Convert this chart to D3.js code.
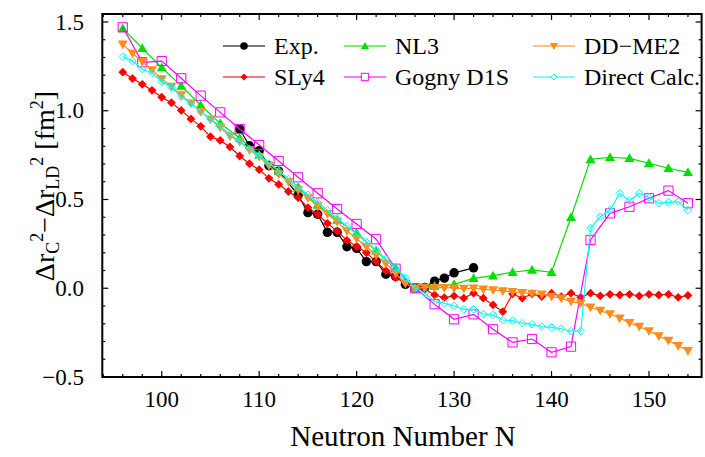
<!DOCTYPE html>
<html>
<head>
<meta charset="utf-8">
<script src="https://cdn.jsdelivr.net/npm/d3@7"></script>
<style>
  body { margin: 0; background: #fff; }
  svg { display: block; }
  svg text { font-family: "Liberation Serif", "Times New Roman", "DejaVu Serif", serif; }
</style>
</head>
<body>
<div class="wrapper"></div>
<script>
// values
var expN = [108, 109, 110, 111, 112, 114, 115, 116, 117, 118, 119, 120, 121, 122, 123, 124, 125, 126, 127, 128, 129, 130, 132];
var expVal = [0.897, 0.803, 0.775, 0.69, 0.66, 0.525, 0.426, 0.417, 0.315, 0.315, 0.234, 0.225, 0.15, 0.15, 0.079, 0.066, 0.022, 0, 0.005, 0.04, 0.057, 0.087, 0.115];

var allN = [96, 97, 98, 99, 100, 101, 102, 103, 104, 105, 106, 107, 108, 109, 110, 111, 112, 113, 114, 115,
  116, 117, 118, 119, 120, 121, 122, 123, 124, 125, 126, 127, 128, 129, 130, 131, 132, 133, 134, 135,
  136, 137, 138, 139, 140, 141, 142, 143, 144, 145, 146, 147, 148, 149, 150, 151, 152, 153, 154];
var evenN = [96, 98, 100, 102, 104, 106, 108, 110, 112, 114, 116, 118, 120, 122, 124, 126, 128, 130, 132, 134,
  136, 138, 140, 142, 144, 146, 148, 150, 152, 154];

var sly4Val = [1.217, 1.181, 1.149, 1.115, 1.076, 1.045, 1.002, 0.954, 0.912, 0.854, 0.833, 0.796, 0.745, 0.702, 0.668, 0.619, 0.585, 0.545, 0.51, 0.454,
  0.417, 0.366, 0.322, 0.27, 0.235, 0.2, 0.15, 0.099, 0.06, 0.03, 0, -0.006, -0.038, -0.053, -0.043, -0.056, -0.028, -0.056, -0.094, -0.132,
  -0.032, -0.056, -0.032, -0.047, -0.028, -0.047, -0.028, -0.051, -0.028, -0.043, -0.034, -0.038, -0.034, -0.043, -0.034, -0.038, -0.034, -0.051, -0.04];

var nl3Val = [1.464, 1.352, 1.243, 1.14, 1.031, 0.929, 0.846, 0.752, 0.66, 0.567, 0.469, 0.385, 0.313, 0.21, 0.112, 0, 0.013, 0.022, 0.056, 0.071,
  0.09, 0.103, 0.09, 0.40, 0.726, 0.738, 0.732, 0.704, 0.676, 0.653];

var gognyVal = [1.47, 1.273, 1.28, 1.183, 1.085, 0.991, 0.897, 0.807, 0.717, 0.625, 0.535, 0.446, 0.362, 0.276, 0.11, 0, -0.09, -0.175, -0.147, -0.231,
  -0.305, -0.286, -0.361, -0.329, 0.272, 0.422, 0.459, 0.507, 0.55, 0.479];

var ddme2Val = [1.374, 1.324, 1.276, 1.23, 1.179, 1.136, 1.089, 1.042, 0.995, 0.952, 0.905, 0.858, 0.826, 0.779, 0.741, 0.69, 0.644, 0.6, 0.553, 0.508,
  0.463, 0.42, 0.375, 0.322, 0.28, 0.234, 0.187, 0.14, 0.085, 0.027, 0, 0.005, 0.003, 0.003, 0.0, -0.002, 0.0, -0.005, -0.01, -0.015,
  -0.02, -0.025, -0.03, -0.034, -0.047, -0.056, -0.075, -0.085, -0.107, -0.126, -0.145, -0.169, -0.194, -0.216, -0.241, -0.269, -0.295, -0.324, -0.352];

var directVal = [1.305, 1.28, 1.235, 1.214, 1.164, 1.132, 1.079, 1.042, 0.995, 0.955, 0.912, 0.868, 0.828, 0.785, 0.748, 0.703, 0.66, 0.615, 0.572, 0.527,
  0.483, 0.44, 0.395, 0.35, 0.305, 0.26, 0.215, 0.165, 0.115, 0.06, 0, -0.028, -0.075, -0.085, -0.1, -0.119, -0.119, -0.145, -0.15, -0.179,
  -0.182, -0.197, -0.203, -0.216, -0.22, -0.228, -0.241, -0.241, 0.338, 0.403, 0.441, 0.535, 0.493, 0.535, 0.512, 0.479, 0.484, 0.488, 0.441];

var xTicks = [100, 110, 120, 130, 140, 150];
var yTicks = [-0.5, 0.0, 0.5, 1.0, 1.5];

var series = [
  {name: "Exp.", n: expN, v: expVal, color: "#000000", marker: "circle"},
  {name: "SLy4", n: allN, v: sly4Val, color: "#ff0000", marker: "diamond"},
  {name: "NL3", n: evenN, v: nl3Val, color: "#00e000", marker: "triangle"},
  {name: "Gogny D1S", n: evenN, v: gognyVal, color: "#ff00ff", marker: "square"},
  {name: "DD\u2212ME2", n: allN, v: ddme2Val, color: "#ff8c1a", marker: "triangleDown"},
  {name: "Direct Calc.", n: allN, v: directVal, color: "#00ffff", marker: "openDiamond"}
];

var serif = "'Liberation Serif', 'Times New Roman', 'DejaVu Serif', serif";
var width = 705, height = 457;
var svg = d3.select(".wrapper").append("svg")
  .attr("width", width)
  .attr("height", height)
  .attr("font-family", serif);

var x = d3.scaleLinear().domain([93.9, 155.4]).range([102.3, 701.6]);
var y = d3.scaleLinear().domain([-0.5, 1.545]).range([377, 14]);

var plot = svg.append("g");

function markerPath(type, s) {
  if (type == "circle") return d3.symbol(d3.symbolCircle, s * s * 3.3)();
  if (type == "diamond" || type == "openDiamond") return "M0," + (-s) + "L" + s + ",0L0," + s + "L" + (-s) + ",0Z";
  if (type == "triangle") return "M0," + (-s) + "L" + s + "," + (s * 0.75) + "L" + (-s) + "," + (s * 0.75) + "Z";
  if (type == "triangleDown") return "M0," + s + "L" + s + "," + (-s * 0.75) + "L" + (-s) + "," + (-s * 0.75) + "Z";
  if (type == "square") return "M" + (-s) + "," + (-s) + "h" + (2 * s) + "v" + (2 * s) + "h" + (-2 * s) + "Z";
}
var markerSize = {circle: 4.6, diamond: 4.4, triangle: 5, square: 4.6, triangleDown: 5, openDiamond: 3.8};

var line = d3.line()
  .x(function(d) { return x(d[0]); })
  .y(function(d) { return y(d[1]); });

series.forEach(function(s) {
  var pts = s.n.map(function(n, i) { return [n, s.v[i]]; });
  var open = (s.marker == "square" || s.marker == "openDiamond");
  plot.append("path")
    .datum(pts)
    .attr("fill", "none")
    .attr("stroke", s.color)
    .attr("stroke-width", 1.2)
    .attr("d", line);
  plot.append("g")
    .selectAll("path")
    .data(pts)
    .enter().append("path")
      .attr("transform", function(d) { return "translate(" + x(d[0]) + "," + y(d[1]) + ")"; })
      .attr("d", markerPath(s.marker, markerSize[s.marker]))
      .attr("fill", open ? "none" : s.color)
      .attr("stroke", s.color)
      .attr("stroke-width", open ? 1 : 0);
});

// frame with ticks on all sides
var x0 = x.range()[0], x1 = x.range()[1], y0 = y.range()[0], y1 = y.range()[1];
var frame = svg.append("g").attr("stroke", "#000");
var xMinor = d3.range(94, 156, 2);
var yMinor = d3.range(-5, 16).map(function(d) { return d / 10; });

xMinor.forEach(function(t) {
  var major = xTicks.indexOf(t) >= 0, len = major ? 6 : 3;
  frame.append("line").attr("x1", x(t)).attr("x2", x(t)).attr("y1", y0).attr("y2", y0 - len).attr("stroke-width", 1.2);
  frame.append("line").attr("x1", x(t)).attr("x2", x(t)).attr("y1", y1).attr("y2", y1 + len).attr("stroke-width", 1.2);
});
yMinor.forEach(function(t) {
  var major = yTicks.some(function(m) { return Math.abs(m - t) < 1e-6; }), len = major ? 6 : 3;
  frame.append("line").attr("y1", y(t)).attr("y2", y(t)).attr("x1", x0).attr("x2", x0 + len).attr("stroke-width", 1.2);
  frame.append("line").attr("y1", y(t)).attr("y2", y(t)).attr("x1", x1).attr("x2", x1 - len).attr("stroke-width", 1.2);
});
frame.append("rect")
  .attr("x", x0).attr("y", y1)
  .attr("width", x1 - x0).attr("height", y0 - y1)
  .attr("fill", "none")
  .attr("stroke-width", 2);

svg.append("g").selectAll("text")
  .data(xTicks)
  .enter().append("text")
    .attr("x", function(d) { return x(d); })
    .attr("y", 407)
    .attr("text-anchor", "middle")
    .attr("font-family", serif)
    .attr("font-size", 23)
    .text(function(d) { return d; });

svg.append("g").selectAll("text")
  .data(yTicks)
  .enter().append("text")
    .attr("x", 84)
    .attr("y", function(d) { return y(d); })
    .attr("dy", "0.33em")
    .attr("text-anchor", "end")
    .attr("font-family", serif)
    .attr("font-size", 23)
    .text(function(d) { return (d < 0 ? "\u2212" : "") + Math.abs(d).toFixed(1); });

svg.append("text")
  .attr("x", 403)
  .attr("y", 446)
  .attr("text-anchor", "middle")
  .attr("font-family", serif)
  .attr("font-size", 29)
  .text("Neutron Number N");

var yl = svg.append("text")
  .attr("transform", "translate(54,186) rotate(-90)")
  .attr("text-anchor", "middle")
  .attr("font-family", serif)
  .attr("font-size", 28);
yl.append("tspan").text("\u0394r");
yl.append("tspan").attr("font-size", 18).attr("dy", 5).text("C");
yl.append("tspan").attr("font-size", 18).attr("dy", -16).text("2");
yl.append("tspan").attr("dy", 11).text("\u2212\u0394r");
yl.append("tspan").attr("font-size", 18).attr("dy", 5).text("LD");
yl.append("tspan").attr("font-size", 18).attr("dy", -16).text("2");
yl.append("tspan").attr("dy", 11).text(" [fm");
yl.append("tspan").attr("font-size", 18).attr("dy", -11).text("2");
yl.append("tspan").attr("dy", 11).text("]");

// legend, column-major like the original
var legendPos = [[223, 46], [223, 77], [344, 46], [344, 77], [533, 46], [533, 77]];
var legend = svg.append("g")
  .selectAll("g")
  .data(series)
  .enter().append("g")
    .attr("transform", function(d, i) { return "translate(" + legendPos[i][0] + "," + legendPos[i][1] + ")"; });

legend.append("line")
  .attr("x1", 0).attr("x2", 42)
  .attr("stroke", function(d) { return d.color; })
  .attr("stroke-opacity", 0.7)
  .attr("stroke-width", 1.5);
legend.append("path")
  .attr("transform", "translate(21,0)")
  .attr("d", function(d) { return markerPath(d.marker, markerSize[d.marker] * 0.8); })
  .attr("fill", function(d) { return (d.marker == "square" || d.marker == "openDiamond") ? "#fff" : d.color; })
  .attr("stroke", function(d) { return d.color; })
  .attr("stroke-width", function(d) { return (d.marker == "square" || d.marker == "openDiamond") ? 1 : 0; });
legend.append("text")
  .attr("x", 51)
  .attr("dy", "0.33em")
  .attr("font-family", serif)
  .attr("font-size", 24)
  .text(function(d) { return d.name; });
</script>
</body>
</html>
